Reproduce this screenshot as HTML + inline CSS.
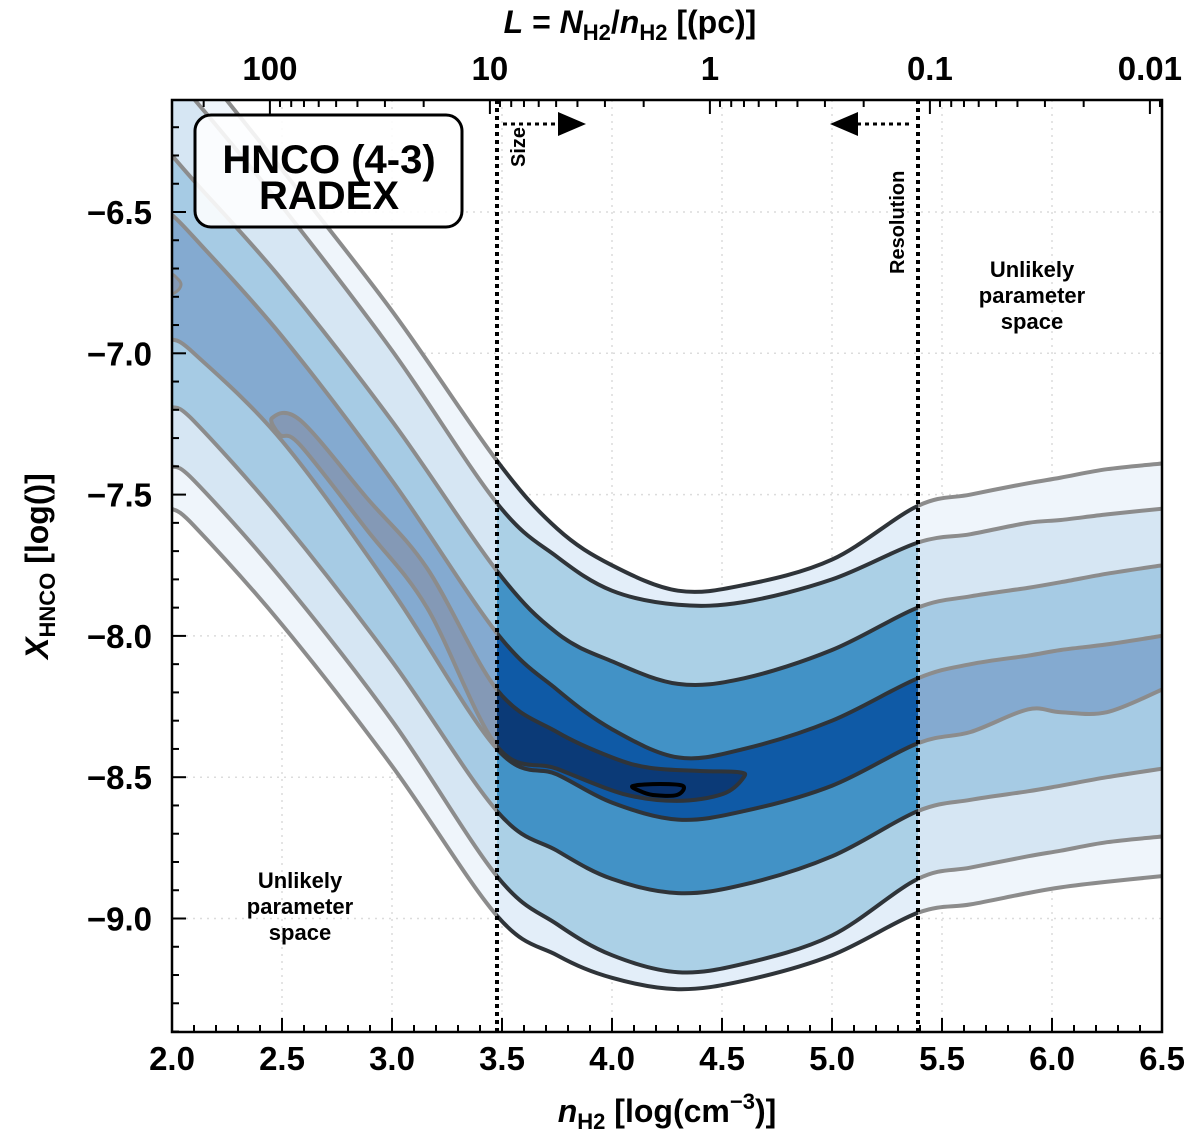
<!DOCTYPE html>
<html><head><meta charset="utf-8"><style>
html,body{margin:0;padding:0;background:#fff;}
svg{display:block;font-family:"Liberation Sans",sans-serif;font-weight:bold;}
</style></head><body>
<svg id="chart" width="1200" height="1145" viewBox="0 0 1200 1145" xmlns="http://www.w3.org/2000/svg">
<defs>
<clipPath id="cPlot"><rect x="172" y="100" width="990" height="932"/></clipPath>
<clipPath id="cMid"><rect x="497" y="100" width="421" height="932"/></clipPath>
<clipPath id="cOut"><rect x="172" y="100" width="325" height="932"/><rect x="918" y="100" width="244" height="932"/></clipPath>
</defs>
<g id="grid"></g>
<g clip-path="url(#cPlot)">
<g id="faded" clip-path="url(#cOut)"></g>
<g id="vivid" clip-path="url(#cMid)"></g>
</g>
<g id="axes"></g>
<g id="annot">
<line x1="497" y1="100" x2="497" y2="1032" stroke="#000" stroke-width="4" stroke-dasharray="4 4"/>
<line x1="918" y1="100" x2="918" y2="1032" stroke="#000" stroke-width="4" stroke-dasharray="4 4"/>
<line x1="503" y1="124" x2="560" y2="124" stroke="#000" stroke-width="3" stroke-dasharray="4 4"/>
<polygon points="558,112 586,124 558,136" fill="#000"/>
<line x1="857" y1="124" x2="912" y2="124" stroke="#000" stroke-width="3" stroke-dasharray="4 4"/>
<polygon points="858,112 830,124 858,136" fill="#000"/>
<text transform="translate(525,167) rotate(-90)" font-size="20">Size</text>
<text transform="translate(904,274) rotate(-90)" font-size="20">Resolution</text>
<rect x="195" y="115" width="267" height="112" rx="16" fill="rgba(255,255,255,0.88)" stroke="#000" stroke-width="3"/>
<text x="329" y="173" text-anchor="middle" font-size="40">HNCO (4-3)</text>
<text x="329" y="209" text-anchor="middle" font-size="40">RADEX</text>
<g font-size="22" text-anchor="middle">
<text x="300" y="888">Unlikely</text><text x="300" y="914">parameter</text><text x="300" y="940">space</text></g>
<g font-size="22" text-anchor="middle">
<text x="1032" y="277">Unlikely</text><text x="1032" y="303">parameter</text><text x="1032" y="329">space</text></g>
</g>
</svg>
<script>
const xs=[2.0,2.1,2.5,3.0,3.477,3.75,4.0,4.3,4.6,5.0,5.39,5.63,5.89,6.04,6.25,6.5];
const line1=[-5.86,-5.96,-6.35,-6.85,-7.38,-7.62,-7.75,-7.84,-7.82,-7.73,-7.54,-7.50,-7.46,-7.44,-7.41,-7.39];
const line2=[-6.02,-6.10,-6.48,-6.99,-7.53,-7.72,-7.84,-7.89,-7.88,-7.80,-7.67,-7.64,-7.60,-7.59,-7.57,-7.55];
const line3=[-6.30,-6.39,-6.74,-7.24,-7.77,-7.99,-8.09,-8.17,-8.15,-8.05,-7.90,-7.86,-7.83,-7.81,-7.78,-7.75];
const line4=[-6.51,-6.59,-6.94,-7.45,-7.99,-8.19,-8.33,-8.43,-8.40,-8.30,-8.15,-8.10,-8.07,-8.05,-8.03,-8.00];
const line5=[-6.95,-7.00,-7.31,-7.84,-8.40,-8.49,-8.59,-8.65,-8.62,-8.53,-8.38,-8.34,-8.26,-8.27,-8.27,-8.19];
const line6=[-7.19,-7.24,-7.59,-8.09,-8.62,-8.76,-8.86,-8.91,-8.88,-8.78,-8.62,-8.58,-8.55,-8.53,-8.50,-8.47];
const line7=[-7.40,-7.45,-7.80,-8.30,-8.85,-9.02,-9.13,-9.19,-9.16,-9.06,-8.86,-8.82,-8.78,-8.76,-8.73,-8.71];
const line8=[-7.55,-7.61,-7.96,-8.46,-8.99,-9.13,-9.21,-9.25,-9.22,-9.13,-8.98,-8.95,-8.91,-8.89,-8.87,-8.85];
const coreX=[2.455,2.582,2.886,3.159,3.477,3.75,4.0,4.173,4.4,4.573,4.6,4.505,4.295,4.05,3.75,3.477,3.159,2.886,2.582,2.491];
const coreY=[-7.229,-7.236,-7.512,-7.760,-8.19,-8.34,-8.43,-8.467,-8.478,-8.482,-8.499,-8.559,-8.584,-8.559,-8.47,-8.39,-7.90,-7.625,-7.324,-7.289];
const peakX=[4.095,4.218,4.323,4.295,4.186,4.127];
const peakY=[-8.531,-8.524,-8.531,-8.563,-8.563,-8.549];
const blobX=[1.99,2.027,2.041,2.023,1.99];
const blobY=[-6.72,-6.737,-6.758,-6.78,-6.787];
const xTicks=[2.0,2.5,3.0,3.5,4.0,4.5,5.0,5.5,6.0,6.5];
const xTickLabels=["2.0","2.5","3.0","3.5","4.0","4.5","5.0","5.5","6.0","6.5"];
const yTicks=[-6.5,-7.0,-7.5,-8.0,-8.5,-9.0];
const yTickLabels=["\u22126.5","\u22127.0","\u22127.5","\u22128.0","\u22128.5","\u22129.0"];
const topTicks=[100,10,1,0.1,0.01];
const topTickLabels=["100","10","1","0.1","0.01"];
const lOffset=4.445;
const vividColors=['#e3eef9','#abd0e6','#4292c6','#0f5aa6','#4292c6','#abd0e6','#e3eef9'];
const fadedColors=['#eff5fb','#d6e6f3','#a6cbe4','#84aad0','#a6cbe4','#d6e6f3','#eff5fb'];

const NS='http://www.w3.org/2000/svg';
const X0=172,X1=1162,Y0=100,Y1=1032;
function sx(v){return X0+(v-2.0)*(X1-X0)/4.5;}
function sy(v){return 212+(-6.5-v)*282.6;}
function mk(tag,attrs,parent){const e=document.createElementNS(NS,tag);for(const k in attrs)e.setAttribute(k,attrs[k]);parent.appendChild(e);return e;}
function seg(p,closed){
  let d='';const n=p.length;
  const get=i=>closed?p[(i+n)%n]:p[Math.max(0,Math.min(n-1,i))];
  const m=closed?n:n-1;
  for(let i=0;i<m;i++){
    const a=get(i-1),b=get(i),c=get(i+1),e=get(i+2);
    d+=` C${(b[0]+(c[0]-a[0])/6).toFixed(1)},${(b[1]+(c[1]-a[1])/6).toFixed(1)} ${(c[0]-(e[0]-b[0])/6).toFixed(1)},${(c[1]-(e[1]-b[1])/6).toFixed(1)} ${c[0].toFixed(1)},${c[1].toFixed(1)}`;
  }
  return d;
}
function pts(ys){return xs.map((x,i)=>[sx(x),sy(ys[i])]);}
function openPath(ys){const p=pts(ys);return `M${p[0][0]},${p[0][1]}`+seg(p,false);}
function bandPath(a,b){const p=pts(a),q=pts(b).reverse();return `M${p[0][0]},${p[0][1]}`+seg(p,false)+` L${q[0][0]},${q[0][1]}`+seg(q,false)+'Z';}
function closedPath(X,Y){const p=X.map((x,i)=>[sx(x),sy(Y[i])]);return `M${p[0][0]},${p[0][1]}`+seg(p,true)+'Z';}
const lines=[line1,line2,line3,line4,line5,line6,line7,line8];

function drawSet(g,colors,coreFill,lineCol,withPeak){
  for(let i=0;i<7;i++){
    const b=mk('path',{d:bandPath(lines[i],lines[i+1]),fill:colors[i],stroke:'none'},g);
    
    
  }
  const c=mk('path',{d:closedPath(coreX,coreY),fill:coreFill,stroke:lineCol,'stroke-width':4,'stroke-linejoin':'round'},g);
  
  
  const bl=mk('path',{d:closedPath(blobX,blobY),fill:'#8499b6',stroke:lineCol,'stroke-width':3},g);
  
  
  if(withPeak){
    const pk=mk('path',{d:closedPath(peakX,peakY),fill:'#08306b',stroke:'#000','stroke-width':4,'stroke-linejoin':'round'},g);
    
    
  }
  for(let i=0;i<8;i++){
    const l=mk('path',{d:openPath(lines[i]),fill:'none',stroke:lineCol,'stroke-width':4,'stroke-linejoin':'round'},g);
    
    
  }
}
drawSet(document.getElementById('faded'),fadedColors,'#8499b6','#8c8c8c',false);
drawSet(document.getElementById('vivid'),vividColors,'#0b3a77','#2f3439',true);

const grid=document.getElementById('grid');
xTicks.forEach(v=>{const l=mk('line',{x1:sx(v),x2:sx(v),y1:Y0,y2:Y1,stroke:'#dcdcdc','stroke-width':1.5,'stroke-dasharray':'2 5'},grid);

});
yTicks.forEach(v=>{const l=mk('line',{x1:X0,x2:X1,y1:sy(v),y2:sy(v),stroke:'#dcdcdc','stroke-width':1.5,'stroke-dasharray':'2 5'},grid);

});

const ax=document.getElementById('axes');
const fr=mk('rect',{x:X0,y:Y0,width:X1-X0,height:Y1-Y0,fill:'none',stroke:'#000','stroke-width':2.5},ax);


for(let k=0;k<=45;k++){const v=2+k*0.1;const maj=k%5===0;const len=maj?14:7;
  const t=mk('line',{x1:sx(v),x2:sx(v),y1:Y1,y2:Y1-len,stroke:'#000','stroke-width':2},ax);
  
  }
for(let k=0;k<=33;k++){const v=-6.2-k*0.1;if(sy(v)>Y1)break;const maj=Math.abs((v*10)%5)<0.01;const len=maj?14:7;
  const t=mk('line',{x1:X0,x2:X0+len,y1:sy(v),y2:sy(v),stroke:'#000','stroke-width':2},ax);
  
  }
xTicks.forEach((v,i)=>{const t=mk('text',{x:sx(v),y:1070,'text-anchor':'middle','font-size':33},ax);t.textContent=xTickLabels[i];
  
  });
yTicks.forEach((v,i)=>{const t=mk('text',{x:152,y:sy(v)+12,'text-anchor':'end','font-size':33},ax);t.textContent=yTickLabels[i];
  
  });
for(let d=-3;d<=3;d++){for(let m=1;m<10;m++){const L=m*Math.pow(10,d);const xv=lOffset-Math.log10(L);const px=sx(xv);if(px<X0||px>X1)continue;
  const t=mk('line',{x1:px,x2:px,y1:Y0,y2:Y0+(m===1?14:7),stroke:'#000','stroke-width':2},ax);
  
  }}
topTicks.forEach((L,i)=>{const t=mk('text',{x:sx(lOffset-Math.log10(L)),y:80,'text-anchor':'middle','font-size':33},ax);t.textContent=topTickLabels[i];
  
  });
</script>
<svg style="position:absolute;left:0;top:0" width="1200" height="1145" xmlns="http://www.w3.org/2000/svg" font-family="Liberation Sans, sans-serif" font-weight="bold">
<text x="667" y="1122" text-anchor="middle" font-size="32"><tspan font-style="italic">n</tspan><tspan font-size="22" dy="7">H2</tspan><tspan dy="-7"> [log(cm</tspan><tspan font-size="22" dy="-13">−3</tspan><tspan dy="13">)]</tspan></text>
<text x="630" y="33" text-anchor="middle" font-size="32"><tspan font-style="italic">L</tspan><tspan> = </tspan><tspan font-style="italic">N</tspan><tspan font-size="22" dy="7">H2</tspan><tspan dy="-7">/</tspan><tspan font-style="italic">n</tspan><tspan font-size="22" dy="7">H2</tspan><tspan dy="-7"> [(pc)]</tspan></text>
<text transform="translate(48,566) rotate(-90)" text-anchor="middle" font-size="32"><tspan font-style="italic">X</tspan><tspan font-size="22" dy="7">HNCO</tspan><tspan dy="-7"> [log()]</tspan></text>
</svg>
</body></html>
